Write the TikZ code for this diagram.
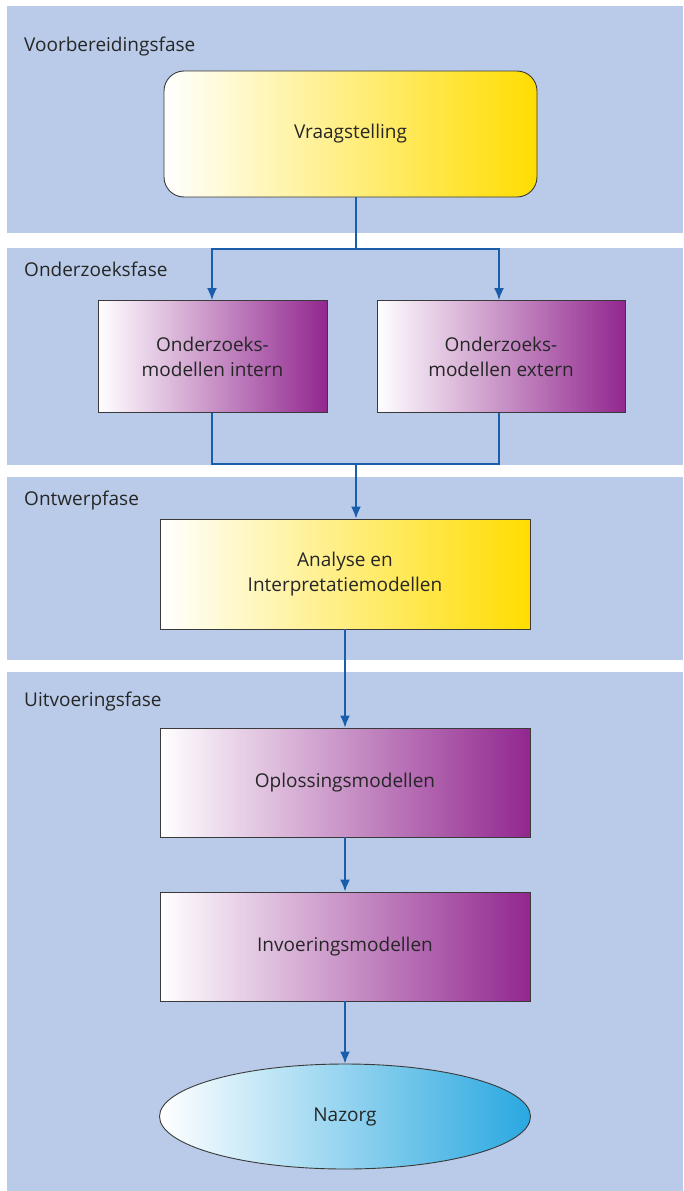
\documentclass[tikz,border=0pt]{standalone}
\usepackage{fontspec}
\setmainfont{Open Sans}
\usetikzlibrary{arrows.meta,shapes.geometric}
\definecolor{band}{HTML}{B9CBE8}
\definecolor{yel}{HTML}{FFDD00}
\definecolor{pur}{HTML}{92278F}
\definecolor{cya}{HTML}{29A8E0}
\definecolor{arr}{HTML}{1A5DAB}
\definecolor{txt}{HTML}{262626}
\definecolor{bord}{HTML}{3A3A3A}
\tikzset{
  bandbox/.style={fill=band, draw=none},
  phase/.style={anchor=base west, text=txt, font=\fontsize{19}{22}\selectfont, inner sep=0},
  boxbase/.style={draw=bord, line width=0.9pt, text=txt, font=\fontsize{19}{25}\selectfont, align=center, inner sep=0},
  yelbox/.style={boxbase, rectangle, left color=white, right color=yel},
  purbox/.style={boxbase, rectangle, left color=white, right color=pur},
  cyaell/.style={boxbase, ellipse, left color=white, right color=cya},
  conn/.style={draw=arr, line width=1.8pt},
  arrow/.style={conn, -{Latex[length=12pt,width=10pt]}}
}
\begin{document}
\begin{tikzpicture}[x=1pt,y=-1pt]
\useasboundingbox (0,0) rectangle (683,1191);
\fill[white] (0,0) rectangle (683,1191);
% bands
\path[bandbox] (7,6) rectangle (683,233);
\path[bandbox] (7,248) rectangle (683,465);
\path[bandbox] (7,477) rectangle (683,660);
\path[bandbox] (7,672) rectangle (683,1191);
% phase labels
\node[phase] (l1) at (24,51) {Voorbereidingsfase};
\node[phase] (l2) at (24,276) {Onderzoeksfase};
\node[phase] (l3) at (24,505) {Ontwerpfase};
\node[phase] (l4) at (24,706) {Uitvoeringsfase};
% nodes
\node[yelbox, rounded corners=20pt, minimum width=373pt, minimum height=126pt] (vr) at (350.5,134) {Vraagstelling};
\node[purbox, minimum width=229pt, minimum height=112pt] (in) at (212.5,356.5) {Onderzoeks-\\modellen intern};
\node[purbox, minimum width=248pt, minimum height=112pt] (ex) at (501,356.5) {Onderzoeks-\\modellen extern};
\node[yelbox, minimum width=370pt, minimum height=110pt] (an) at (345,574) {Analyse en\\Interpretatiemodellen};
\node[purbox, minimum width=370pt, minimum height=109pt] (op) at (345,782.5) {Oplossingsmodellen};
\node[purbox, minimum width=370pt, minimum height=109pt] (iv) at (345,946.5) {Invoeringsmodellen};
\node[cyaell, minimum width=371pt, minimum height=105pt] (nz) at (345,1116.5) {Nazorg};
% connectors
\coordinate (split) at (356,249);
\coordinate (merge) at (356,464);
\draw[conn] (vr.south -| split) -- (split);
\draw[arrow] (split) -| ([xshift=-0.5pt]in.north);
\draw[arrow] (split) -| ([xshift=-2pt]ex.north);
\draw[conn] ([xshift=-0.5pt]in.south) |- (merge);
\draw[conn] ([xshift=-2pt]ex.south) |- (merge);
\draw[arrow] (merge) -- (an.north -| merge);
\draw[arrow] (an) -- (op);
\draw[arrow] (op) -- (iv);
\draw[arrow] (iv) -- (nz);
\end{tikzpicture}
\end{document}
